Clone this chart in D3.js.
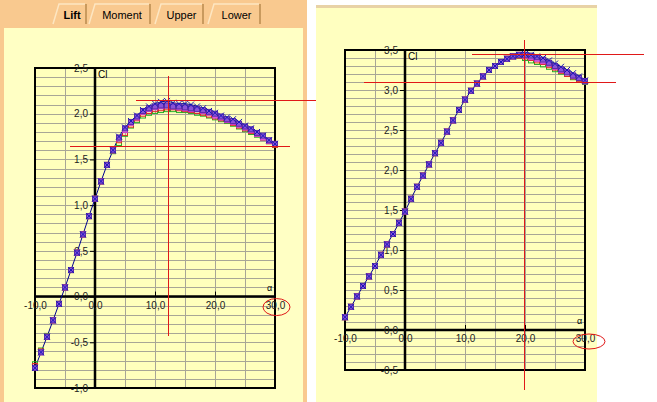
<!DOCTYPE html>
<meta charset="utf-8">
<style>
body { margin: 0; background: #fff; }
svg { display: block; font-family: "Liberation Sans", Arial, sans-serif; }
.grid line { stroke: #a8a696; stroke-width: 1; shape-rendering: crispEdges; }
.tick text { font-size: 10px; fill: #222; }
.tab text { font-size: 11px; fill: #000; }
</style>
<svg width="657" height="402"></svg>
<script src="https://d3js.org/d3.v7.min.js"></script>
<script>
// angle of attack, one point per degree
var alpha = [-10,-9,-8,-7,-6,-5,-4,-3,-2,-1,0,1,2,3,4,5,6,7,8,9,10,
             11,12,13,14,15,16,17,18,19,20,21,22,23,24,25,26,27,28,29,30];

var tabs = ["Lift", "Moment", "Upper", "Lower"];

// left chart (Cl, -1.0 .. 2.5)
var leftBlue   = [-0.78,-0.61,-0.44,-0.26,-0.08,0.10,0.29,0.48,0.68,0.88,1.07,1.26,1.44,1.60,1.75,1.85,1.92,1.98,2.04,2.08,2.11,
                  2.13,2.14,2.12,2.11,2.11,2.10,2.08,2.06,2.03,2.01,1.98,1.96,1.94,1.91,1.87,1.84,1.80,1.76,1.71,1.67];
var leftPurple = [-0.78,-0.61,-0.44,-0.26,-0.08,0.10,0.29,0.48,0.68,0.88,1.07,1.26,1.44,1.60,1.74,1.84,1.91,1.97,2.03,2.06,2.08,
                  2.09,2.09,2.08,2.08,2.07,2.06,2.05,2.04,2.02,2.00,1.97,1.94,1.92,1.89,1.86,1.83,1.79,1.76,1.71,1.67];
var leftPink   = [-0.78,-0.61,-0.44,-0.26,-0.08,0.10,0.29,0.48,0.68,0.88,1.07,1.26,1.44,1.60,1.73,1.82,1.90,1.96,2.02,2.05,2.07,
                  2.08,2.09,2.08,2.07,2.06,2.05,2.05,2.03,2.01,1.98,1.96,1.93,1.91,1.88,1.85,1.82,1.78,1.74,1.70,1.67];
var leftRed    = [-0.76,-0.60,-0.44,-0.26,-0.08,0.10,0.29,0.48,0.68,0.88,1.07,1.26,1.44,1.60,1.71,1.79,1.88,1.95,2.00,2.03,2.05,
                  2.06,2.07,2.07,2.06,2.05,2.04,2.03,2.01,1.99,1.97,1.95,1.93,1.90,1.87,1.84,1.81,1.78,1.74,1.70,1.66];
var leftGreen  = [-0.74,-0.59,-0.43,-0.26,-0.08,0.10,0.29,0.48,0.68,0.88,1.07,1.26,1.44,1.59,1.68,1.78,1.87,1.93,1.98,2.01,2.03,
                  2.04,2.05,2.05,2.04,2.04,2.03,2.01,2.00,1.98,1.96,1.94,1.92,1.89,1.86,1.83,1.80,1.77,1.74,1.70,1.66];

// right chart (Cl, -0.5 .. 3.5)
var rightBlue   = [0.16,0.29,0.42,0.55,0.67,0.80,0.94,1.07,1.20,1.34,1.48,1.64,1.79,1.93,2.07,2.21,2.34,2.48,2.62,2.75,2.88,
                   2.99,3.08,3.17,3.25,3.30,3.35,3.39,3.42,3.44,3.45,3.44,3.42,3.40,3.37,3.33,3.29,3.25,3.21,3.17,3.12];
var rightPurple = [0.16,0.29,0.42,0.55,0.67,0.80,0.94,1.07,1.20,1.34,1.48,1.64,1.79,1.93,2.07,2.21,2.34,2.48,2.62,2.75,2.88,
                   2.99,3.08,3.17,3.25,3.30,3.35,3.39,3.42,3.44,3.44,3.43,3.41,3.38,3.34,3.30,3.26,3.22,3.18,3.15,3.11];
var rightPink   = [0.16,0.29,0.42,0.55,0.67,0.80,0.94,1.07,1.20,1.34,1.48,1.64,1.79,1.93,2.07,2.21,2.34,2.48,2.62,2.75,2.88,
                   2.99,3.08,3.17,3.25,3.30,3.35,3.39,3.42,3.44,3.43,3.41,3.39,3.36,3.33,3.29,3.25,3.22,3.18,3.15,3.11];
var rightRed    = [0.16,0.29,0.42,0.55,0.67,0.80,0.94,1.07,1.20,1.34,1.48,1.64,1.79,1.93,2.07,2.21,2.34,2.48,2.62,2.75,2.88,
                   2.99,3.08,3.17,3.25,3.30,3.35,3.39,3.42,3.43,3.42,3.40,3.37,3.35,3.31,3.28,3.24,3.20,3.17,3.14,3.11];
var rightGreen  = [0.16,0.29,0.42,0.55,0.67,0.80,0.94,1.07,1.20,1.34,1.48,1.64,1.79,1.93,2.07,2.21,2.34,2.48,2.62,2.75,2.88,
                   2.99,3.08,3.17,3.25,3.30,3.35,3.39,3.42,3.43,3.40,3.37,3.35,3.32,3.29,3.26,3.23,3.20,3.16,3.13,3.10];

// red guide lines: [alpha1, cl1, alpha2, cl2]
var leftGuides  = [[12, 2.41, 12, -0.44], [6.8, 2.16, 36.8, 2.16], [-4.2, 1.65, 32.5, 1.65]];
var rightGuides = [[19.7, 3.63, 19.7, -0.75], [11.3, 3.46, 39.7, 3.46], [-7, 3.09, 35.3, 3.09]];

var xTicks = [-10, 0, 10, 20, 30];
var leftYTicks  = [-1, -0.5, 0, 0.5, 1, 1.5, 2, 2.5];
var rightYTicks = [-0.5, 0, 0.5, 1, 1.5, 2, 2.5, 3, 3.5];

var svg = d3.select("svg");
var fmt = function(d) { return d3.format(".1f")(d).replace(".", ",").replace("−", "-"); };
var RED = "#e01818";

// backgrounds
svg.append("rect").attr("x", 0).attr("y", 0).attr("width", 307).attr("height", 402).attr("fill", "#f9c98f");
svg.append("rect").attr("x", 4).attr("y", 28).attr("width", 299).attr("height", 374).attr("fill", "#ffffc4");
svg.append("rect").attr("x", 316).attr("y", 5).attr("width", 281).attr("height", 397).attr("fill", "#ffffc0");
svg.append("rect").attr("x", 316).attr("y", 5).attr("width", 281).attr("height", 3).attr("fill", "#e8d2a6");

// tabs
var tabX = [[52, 86], [88, 150], [154, 203], [207, 260]];
var tabG = svg.selectAll("g.tab").data(tabs).enter().append("g").attr("class", "tab");
tabG.append("path")
    .attr("d", function(d, i) { var a = tabX[i][0], b = tabX[i][1];
        return "M" + a + ",24L" + (a + 6) + ",4L" + b + ",4L" + b + ",24"; })
    .attr("fill", "#f9c98f").attr("stroke", "none");
tabG.append("path")
    .attr("d", function(d, i) { var a = tabX[i][0], b = tabX[i][1];
        return "M" + (a + 1) + ",24L" + (a + 7) + ",4L" + (b - 1) + ",4"; })
    .attr("fill", "none").attr("stroke", "#fde6c2").attr("stroke-width", 1.5);
tabG.append("path")
    .attr("d", function(d, i) { var b = tabX[i][1]; return "M" + b + ",4L" + b + ",24"; })
    .attr("fill", "none").attr("stroke", "#b88a4e").attr("stroke-width", 1.5);
tabG.append("text")
    .attr("x", function(d, i) { return (tabX[i][0] + tabX[i][1]) / 2 + 3; })
    .attr("y", 19)
    .attr("text-anchor", "middle")
    .style("font-weight", function(d, i) { return i === 0 ? "bold" : "normal"; })
    .text(function(d) { return d; });

function drawChart(o) {
    var x = d3.scaleLinear().domain([-10, 30]).range([o.left, o.right]);
    var y = d3.scaleLinear().domain(o.yDomain).range([o.bottom, o.top]);
    var g = svg.append("g");

    g.append("rect").attr("x", o.left).attr("y", o.top)
        .attr("width", o.right - o.left).attr("height", o.bottom - o.top)
        .attr("fill", "#ffffbc");

    var grid = g.append("g").attr("class", "grid");
    var hs = d3.range(Math.round(o.yDomain[0] * 10) + 1, Math.round(o.yDomain[1] * 10)).map(function(v) { return v / 10; });
    grid.selectAll("line.h").data(hs).enter().append("line")
        .attr("x1", o.left).attr("x2", o.right)
        .attr("y1", function(d) { return Math.round(y(d)) + 0.5; })
        .attr("y2", function(d) { return Math.round(y(d)) + 0.5; });
    grid.selectAll("line.v").data(d3.range(-5, 30, 5)).enter().append("line")
        .attr("y1", o.top).attr("y2", o.bottom)
        .attr("x1", function(d) { return Math.round(x(d)) + 0.5; })
        .attr("x2", function(d) { return Math.round(x(d)) + 0.5; });

    // thick axes through the origin
    g.append("line").attr("x1", x(0)).attr("x2", x(0)).attr("y1", o.top).attr("y2", o.bottom)
        .attr("stroke", "#000").attr("stroke-width", 2.5);
    g.append("line").attr("x1", o.left).attr("x2", o.right).attr("y1", y(0)).attr("y2", y(0))
        .attr("stroke", "#000").attr("stroke-width", 2.5);
    g.append("rect").attr("x", o.left).attr("y", o.top)
        .attr("width", o.right - o.left).attr("height", o.bottom - o.top)
        .attr("fill", "none").attr("stroke", "#000").attr("stroke-width", 2);

    var ya = g.append("g").attr("transform", "translate(" + x(0) + ",0)")
        .call(d3.axisLeft(y).tickValues(o.yTicks).tickSize(5).tickPadding(2).tickFormat(fmt));
    ya.select(".domain").remove();
    var xa = g.append("g").attr("transform", "translate(0," + y(0) + ")")
        .call(d3.axisBottom(x).tickValues(xTicks).tickSize(-5).tickPadding(5).tickFormat(fmt));
    xa.select(".domain").remove();

    g.append("text").attr("x", x(0) + 3).attr("y", o.top + 10).style("font-size", "10px").text("Cl");
    g.append("text").attr("x", x(30) - 8).attr("y", y(0) - 6).style("font-size", "9px").text("α");

    // curve
    var line = d3.line().x(function(d, i) { return x(alpha[i]); }).y(function(d) { return y(d); });
    g.append("path").datum(o.series.blue).attr("d", line)
        .attr("fill", "none").attr("stroke", "#000090").attr("stroke-width", 1);

    function squares(vals, fill, stroke) {
        g.append("g").selectAll("rect").data(vals).enter().append("rect")
            .attr("x", function(d, i) { return x(alpha[i]) - 2.5; })
            .attr("y", function(d) { return y(d) - 2.5; })
            .attr("width", 5).attr("height", 5)
            .attr("fill", fill).attr("stroke", stroke).attr("stroke-width", 1);
    }
    squares(o.series.green, "none", "#28b028");
    squares(o.series.red, "none", "#e02828");
    squares(o.series.pink, "#e878e8", "#c838c8");
    squares(o.series.purple, "#8a52d8", "#5a2ca8");
    g.append("g").selectAll("path").data(o.series.blue).enter().append("path")
        .attr("transform", function(d, i) { return "translate(" + x(alpha[i]) + "," + y(d) + ")"; })
        .attr("d", "M-3,-3L3,3M-3,3L3,-3")
        .attr("stroke", "#1818b8").attr("stroke-width", 1);

    // red guides as 1px bars; snapped to even pixels so the thin red survives compression
    var snap = function(v) { return Math.round(v / 2) * 2; };
    var gl = svg.append("g").attr("fill", RED).style("shape-rendering", "crispEdges");
    o.guides.forEach(function(d) {
        var x1 = snap(x(d[0])), x2 = snap(x(d[2]));
        var y1 = snap(y(d[1])), y2 = snap(y(d[3]));
        gl.append("rect")
            .attr("x", Math.min(x1, x2)).attr("y", Math.min(y1, y2))
            .attr("width", Math.max(1, Math.abs(x2 - x1)))
            .attr("height", Math.max(1, Math.abs(y2 - y1)));
    });
    svg.append("ellipse")
        .attr("cx", x(30) + o.ring[0]).attr("cy", y(0) + o.ring[1])
        .attr("rx", o.ring[2]).attr("ry", o.ring[3])
        .attr("fill", "none").attr("stroke", RED).attr("stroke-width", 1);
}

drawChart({
    left: 35, right: 275, top: 68, bottom: 388, yDomain: [-1, 2.5], yTicks: leftYTicks,
    series: { blue: leftBlue, purple: leftPurple, pink: leftPink, red: leftRed, green: leftGreen },
    guides: leftGuides, ring: [1.5, 10.5, 13.5, 8.5]
});
drawChart({
    left: 345, right: 585, top: 50, bottom: 370, yDomain: [-0.5, 3.5], yTicks: rightYTicks,
    series: { blue: rightBlue, purple: rightPurple, pink: rightPink, red: rightRed, green: rightGreen },
    guides: rightGuides, ring: [4, 11.5, 16, 7.5]
});
</script>
